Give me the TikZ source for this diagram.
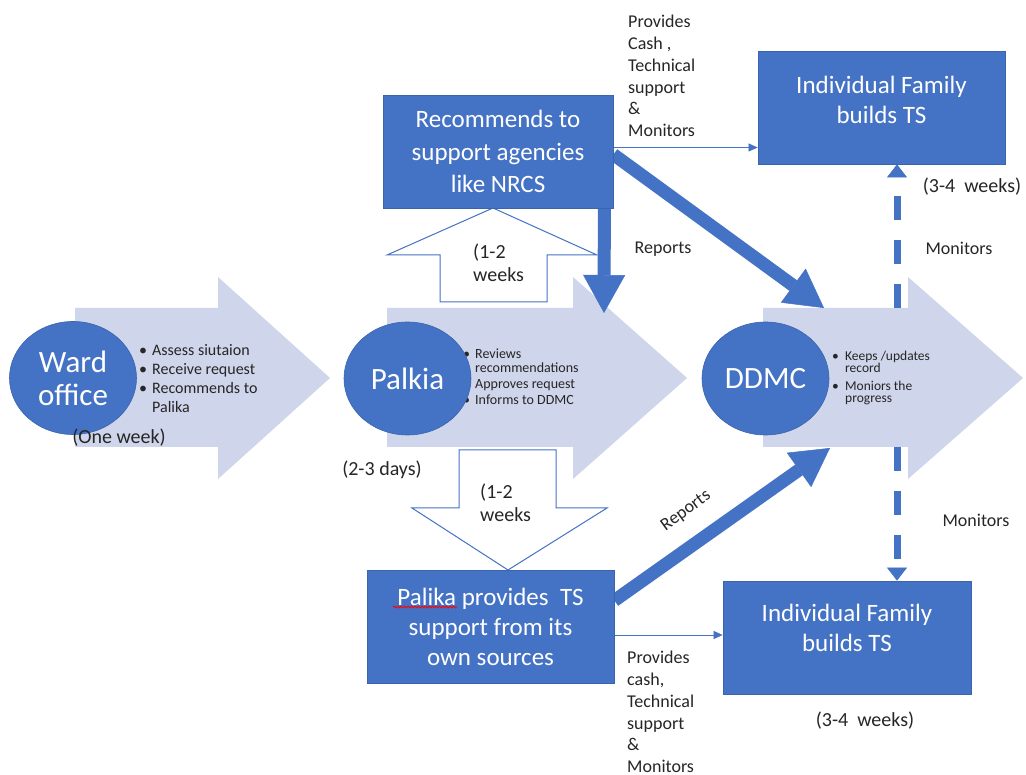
\documentclass[tikz,border=0pt]{standalone}
\usepackage{fontspec}
\setmainfont{Carlito}
\usetikzlibrary{arrows.meta,shapes.geometric,decorations.pathmorphing}
\definecolor{blu}{HTML}{4472C4}
\definecolor{lite}{HTML}{CFD5EA}
\definecolor{txt}{HTML}{262626}
\definecolor{bord}{HTML}{3A64AE}
\begin{document}
\begin{tikzpicture}[x=1pt,y=-1pt,
  bigarrow/.style={fill=lite, draw=none},
  circ/.style={ellipse, fill=blu, draw=bord, line width=0.6pt, minimum width=127pt, minimum height=113pt, inner sep=0pt, text=white, align=center, font=\fontsize{31}{33}\selectfont},
  box/.style={rectangle, fill=blu, draw=bord, line width=0.8pt, inner sep=0pt, text=white, align=center, font=\fontsize{25}{30}\selectfont},
  boxtext/.style={text=white, align=center, inner sep=0pt, font=\fontsize{25}{30}\selectfont},
  lbl/.style={text=txt, inner sep=0pt, font=\fontsize{18}{21.8}\selectfont},
  dur/.style={text=txt, inner sep=0pt, font=\fontsize{20}{23}\selectfont},
  blockarrow/.style={fill=white, draw=blu, line width=1pt},
  thickarrow/.style={draw=blu, line width=13pt, -{Triangle[length=38pt,width=42pt,line width=0.5pt]}},
  thinarrow/.style={draw=blu, line width=1pt, -{Triangle[length=9pt,width=8pt,line width=0.5pt]}},
  dasharrow/.style={draw=blu, line width=7pt, dash pattern=on 24pt off 20pt, -{Triangle[length=13pt,width=20pt,line width=0.5pt]}},
  bul/.style={text=txt, inner sep=0pt, align=left, anchor=north west},
]
\useasboundingbox[fill=white] (0,0) rectangle (1026,775);

% big light arrows
\path[bigarrow] (75,308) -- (218,308) -- (218,277) -- (330,378) -- (218,479) -- (218,447) -- (75,447) -- cycle;
\path[bigarrow] (387,308) -- (573,308) -- (573,277) -- (687,378) -- (573,479) -- (573,447) -- (387,447) -- cycle;
\path[bigarrow] (763,308) -- (908,308) -- (908,277) -- (1023,378) -- (908,479) -- (908,447) -- (763,447) -- cycle;

% block arrows
\path[blockarrow] (440,302) -- (440,255) -- (387,255) -- (493,208) -- (597,255) -- (547,255) -- (547,302) -- cycle;
\path[blockarrow] (459,450) -- (556,450) -- (556,508) -- (607,508) -- (508,570) -- (412,508) -- (459,508) -- cycle;

% boxes (positions)
\node[box, minimum width=230pt, minimum height=113pt, font=\fontsize{25}{32.5}\selectfont] (nrcs) at (498,151.5) {Recommends to\\support agencies\\like NRCS};
\node[box, minimum width=247pt, minimum height=113pt, label={[boxtext, yshift=7.5pt]center:Individual Family\\builds TS}] (fam1) at (881.5,107.5) {};
\node[box, minimum width=247pt, minimum height=113pt] (pal) at (490.5,626.5) {Palika provides~~TS\\support from its\\own sources};
\node[box, minimum width=248pt, minimum height=113pt, label={[boxtext, yshift=10pt]center:Individual Family\\builds TS}] (fam2) at (847,637.5) {};

% coordinates on the big arrows
\coordinate (palkIn) at (604,313);
\coordinate (ddmcIn) at (824,308);
\coordinate (ddmcIn2) at (830,448);
\coordinate (dtop) at (897,308);
\coordinate (dbot) at (897,447);

% connectors (drawn under the boxes)
\begin{scope}[on background layer/.style={}]
\draw[thickarrow] ([xshift=-9pt]nrcs.south east) -- (palkIn);
\draw[thickarrow] ([yshift=-3pt]nrcs.east) -- (ddmcIn);
\draw[thickarrow] ([yshift=26pt]pal.east) -- (ddmcIn2);
\draw[thinarrow] ([yshift=4pt]nrcs.east) -- ([yshift=4pt]nrcs.east -| fam1.west);
\draw[thinarrow] ([yshift=2.5pt]pal.east |- fam2.west) -- ([yshift=2.5pt]fam2.west);
\draw[dasharrow] (dtop) -- (dtop |- fam1.south);
\draw[dasharrow] (dbot) -- (dbot |- fam2.north);
\end{scope}

% redraw boxes on top of connector starts
\node[box, minimum width=230pt, minimum height=113pt, font=\fontsize{25}{32.5}\selectfont] (nrcsB) at (nrcs) {Recommends to\\support agencies\\like NRCS};
\node[box, minimum width=247pt, minimum height=113pt] (palB) at (pal) {Palika provides~~TS\\support from its\\own sources};
\draw[red, line width=0.8pt, decorate, decoration={snake, amplitude=1pt, segment length=3.5pt}] (393,607) -- (457,607);

% bullet lists (under the circles)
\node[bul, font=\fontsize{16}{19}\selectfont] (wardlist) at (139,344) {\makebox[13pt][l]{\textbullet}Assess siutaion\\\makebox[13pt][l]{\textbullet}Receive request\\\makebox[13pt][l]{\textbullet}Recommends to\\\hspace*{13pt}Palika};
\node[bul, font=\fontsize{14}{13.5}\selectfont] (palklist) at (463,349) {\makebox[12pt][l]{\textbullet}Reviews\\\hspace*{12pt}recommendations\\[2.5pt]\makebox[12pt][l]{\textbullet}Approves request\\[2.5pt]\makebox[12pt][l]{\textbullet}Informs to DDMC};
\node[bul, font=\fontsize{13.5}{12}\selectfont] (ddmclist) at (832,351) {\makebox[13pt][l]{\textbullet}Keeps /updates\\\hspace*{13pt}record\\[6pt]\makebox[13pt][l]{\textbullet}Moniors the\\\hspace*{13pt}progress};

% circles
\node[circ] (ward) at (73,378) {Ward\\office};
\node[circ] (palkia) at (407.5,378.5) {Palkia};
\node[circ] (ddmc) at (765.5,378.5) {DDMC};

% labels
\node[lbl, anchor=north west, align=left] (provtop) at (628,15) {Provides\\Cash ,\\Technical\\support\\\&\\Monitors};
\node[lbl, anchor=north west, align=left] (provbot) at (627,651) {Provides\\cash,\\Technical\\support\\\&\\Monitors};
\node[lbl] (rep1) at (663,249) {Reports};
\node[lbl, rotate=36] (rep2) at (686,511) {Reports};
\node[lbl] (mon1) at (959,248) {Monitors};
\node[lbl] (mon2) at (976,520) {Monitors};
\node[dur] (wk1) at (972,187) {(3-4~~weeks)};
\node[dur] (wk2) at (865,721) {(3-4~~weeks)};
\node[dur] (one) at (119,438) {(One week)};
\node[dur] (days) at (382,470) {(2-3 days)};
\node[dur, anchor=north west, align=left] (upwk) at (473,244) {(1-2\\weeks};
\node[dur, anchor=north west, align=left] (dnwk) at (480,484) {(1-2\\weeks};
\end{tikzpicture}
\end{document}
